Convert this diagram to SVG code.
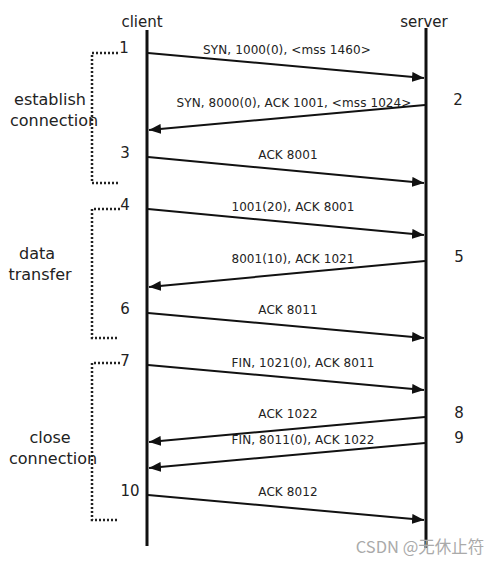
<svg xmlns="http://www.w3.org/2000/svg" width="504" height="564" viewBox="0 0 504 564">
<style>
text{font-family:"DejaVu Sans","Liberation Sans",sans-serif;fill:#222}
.lbl{font-size:12px;text-anchor:middle;letter-spacing:0.1px}
.num{font-size:15px;text-anchor:middle}
.side{font-size:16px;text-anchor:middle}
.life{stroke:#111;stroke-width:3;fill:none}
.msg{stroke:#111;stroke-width:2;fill:none;marker-end:url(#ah)}
.br{stroke:#222;stroke-width:2.5;fill:none;stroke-dasharray:2 2}
</style>
<defs>
<marker id="ah" viewBox="0 0 12 10" refX="12" refY="5" markerWidth="12" markerHeight="10" markerUnits="userSpaceOnUse" orient="auto">
<path d="M0,0 L12,5 L0,10 Z" fill="#111"/>
</marker>
</defs>
<rect width="504" height="564" fill="#fff"/>
<g id="client">
<text x="142" y="27" style="font-size:15px;text-anchor:middle">client</text>
<line class="life" x1="147" y1="30" x2="147" y2="546"/>
</g>
<g id="server">
<text x="424" y="27" style="font-size:15px;text-anchor:middle">server</text>
<line class="life" x1="426" y1="28" x2="426" y2="548"/>
</g>
<g id="phase-establish">
<path class="br" d="M118,53 H92 V183 H118"/>
<text class="side" x="50" y="105">establish</text>
<text class="side" x="54" y="126">connection</text>
</g>
<g id="phase-data">
<path class="br" d="M120,209 H92 V338 H118"/>
<text class="side" x="37" y="259">data</text>
<text class="side" x="40" y="280">transfer</text>
</g>
<g id="phase-close">
<path class="br" d="M120,363 H92 V520 H118"/>
<text class="side" x="50" y="443">close</text>
<text class="side" x="53" y="464">connection</text>
</g>
<g id="steps">
<text class="num" x="124" y="53">1</text>
<text class="num" x="458" y="105">2</text>
<text class="num" x="125" y="158">3</text>
<text class="num" x="125" y="210">4</text>
<text class="num" x="459" y="262">5</text>
<text class="num" x="125" y="314">6</text>
<text class="num" x="125" y="366">7</text>
<text class="num" x="459" y="418">8</text>
<text class="num" x="459" y="443">9</text>
<text class="num" x="130" y="496">10</text>
</g>
<g id="connectors">
<line class="msg" x1="148" y1="53" x2="424" y2="78"/>
<text class="lbl" x="287" y="54">SYN, 1000(0), &lt;mss 1460&gt;</text>
<line class="msg" x1="425" y1="105" x2="149" y2="130"/>
<text class="lbl" x="294" y="107">SYN, 8000(0), ACK 1001, &lt;mss 1024&gt;</text>
<line class="msg" x1="148" y1="157" x2="424" y2="183"/>
<text class="lbl" x="288" y="159">ACK 8001</text>
<line class="msg" x1="148" y1="209" x2="424" y2="235"/>
<text class="lbl" x="293" y="211">1001(20), ACK 8001</text>
<line class="msg" x1="425" y1="261" x2="149" y2="287"/>
<text class="lbl" x="293" y="263">8001(10), ACK 1021</text>
<line class="msg" x1="148" y1="313" x2="424" y2="338"/>
<text class="lbl" x="288" y="314">ACK 8011</text>
<line class="msg" x1="148" y1="365" x2="424" y2="390"/>
<text class="lbl" x="303" y="367">FIN, 1021(0), ACK 8011</text>
<line class="msg" x1="425" y1="417" x2="149" y2="442"/>
<text class="lbl" x="288" y="418">ACK 1022</text>
<line class="msg" x1="425" y1="443" x2="149" y2="468"/>
<text class="lbl" x="303" y="444">FIN, 8011(0), ACK 1022</text>
<line class="msg" x1="148" y1="495" x2="424" y2="520"/>
<text class="lbl" x="288" y="496">ACK 8012</text>
</g>
<text x="420" y="553" style="font-family:'Noto Sans CJK SC','Liberation Sans',sans-serif;font-size:16.5px;fill:#aaa;text-anchor:middle">CSDN @无休止符</text>
</svg>
